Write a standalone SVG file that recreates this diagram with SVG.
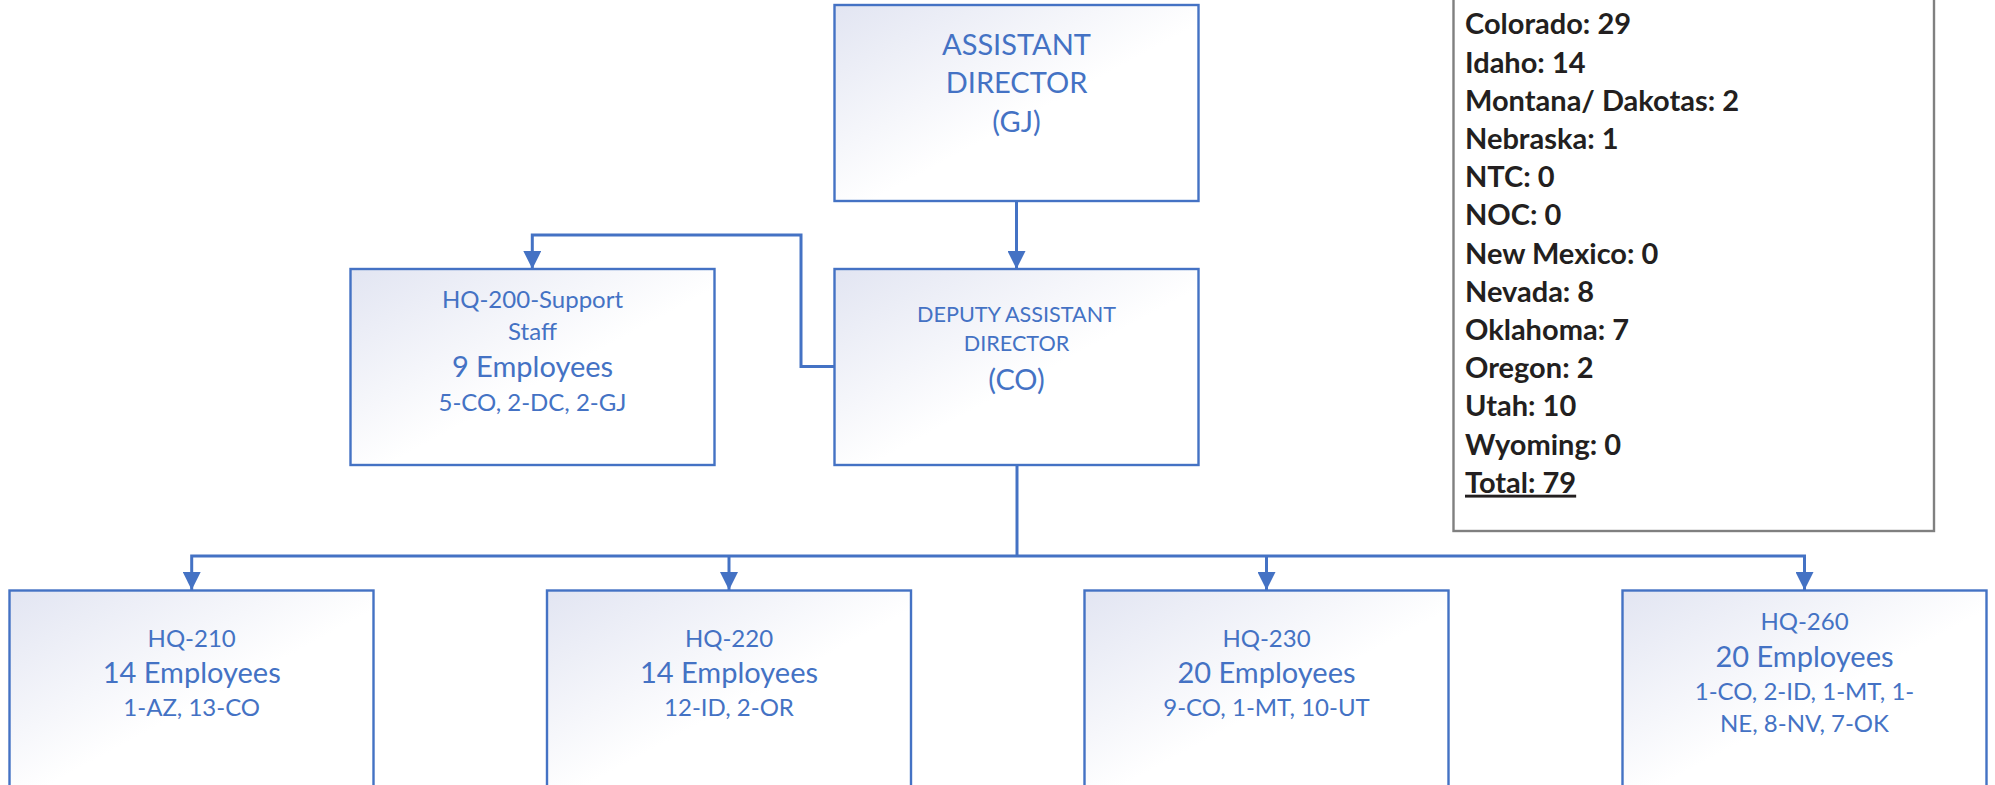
<svg xmlns="http://www.w3.org/2000/svg" width="1995" height="785" viewBox="0 0 1995 785">
  <defs>
    <linearGradient id="boxfill" x1="0" y1="0" x2="1" y2="1">
      <stop offset="0" stop-color="#e2e5f2"/>
      <stop offset="0.55" stop-color="#ffffff"/>
      <stop offset="1" stop-color="#ffffff"/>
    </linearGradient>
    <marker id="arrow" viewBox="0 0 18 18" refX="18" refY="9" markerWidth="18" markerHeight="18" markerUnits="userSpaceOnUse" orient="auto">
      <path d="M0,0 L18,9 L0,18 z" fill="#4472c4"/>
    </marker>
    <style>
      .box { fill: url(#boxfill); stroke: #4472c4; stroke-width: 2.4; }
      .conn { fill: none; stroke: #4472c4; stroke-width: 3; }
      .t { font-family: Lato, "Open Sans", sans-serif; fill: #4472c4; text-anchor: middle; }
      .big { font-size: 29px; }
      .mid { font-size: 24px; }
      .sm { font-size: 21.6px; }
      .leg { font-family: Lato, "Open Sans", sans-serif; font-weight: bold; font-size: 29px; fill: #231f20; }
    </style>
  </defs>

  <g id="connectors">
    <path class="conn" d="M1016.5,201 V269" marker-end="url(#arrow)"/>
    <path class="conn" d="M835,366.5 H801 V235 H532.3 V269" marker-end="url(#arrow)"/>
    <path class="conn" d="M1017,465 V556"/>
    <path class="conn" d="M1017,556 H191.7 V590" marker-end="url(#arrow)"/>
    <path class="conn" d="M1017,556 H1804.5 V590" marker-end="url(#arrow)"/>
    <path class="conn" d="M729,556 V590" marker-end="url(#arrow)"/>
    <path class="conn" d="M1266.5,556 V590" marker-end="url(#arrow)"/>
  </g>

  <g id="assistant-director">
    <rect class="box" x="834.5" y="5" width="364" height="196"/>
    <text class="t big" x="1016.5" y="55">ASSISTANT</text>
    <text class="t big" x="1016.5" y="93.3">DIRECTOR</text>
    <text class="t big" x="1016.5" y="131.5">(GJ)</text>
  </g>

  <g id="support-staff">
    <rect class="box" x="350.5" y="269" width="364" height="196"/>
    <text class="t mid" x="532.5" y="308">HQ-200-Support</text>
    <text class="t mid" x="532.5" y="339.7">Staff</text>
    <text class="t big" x="532.5" y="377.3">9 Employees</text>
    <text class="t mid" x="532.5" y="410.7">5-CO, 2-DC, 2-GJ</text>
  </g>

  <g id="deputy-assistant-director">
    <rect class="box" x="834.5" y="269" width="364" height="196"/>
    <text class="t sm" x="1016.5" y="322">DEPUTY ASSISTANT</text>
    <text class="t sm" x="1016.5" y="351.3">DIRECTOR</text>
    <text class="t big" x="1016.5" y="389.5">(CO)</text>
  </g>

  <g id="legend">
    <rect x="1453.5" y="-10" width="480.5" height="541" fill="#ffffff" stroke="#808080" stroke-width="2.4"/>
    <text class="leg" x="1465" y="34.3">Colorado: 29</text>
    <text class="leg" x="1465" y="72.5">Idaho: 14</text>
    <text class="leg" x="1465" y="110.7">Montana/ Dakotas: 2</text>
    <text class="leg" x="1465" y="148.9">Nebraska: 1</text>
    <text class="leg" x="1465" y="187.1">NTC: 0</text>
    <text class="leg" x="1465" y="225.3">NOC: 0</text>
    <text class="leg" x="1465" y="263.5">New Mexico: 0</text>
    <text class="leg" x="1465" y="301.7">Nevada: 8</text>
    <text class="leg" x="1465" y="339.9">Oklahoma: 7</text>
    <text class="leg" x="1465" y="378.1">Oregon: 2</text>
    <text class="leg" x="1465" y="416.3">Utah: 10</text>
    <text class="leg" x="1465" y="454.5">Wyoming: 0</text>
    <text class="leg" x="1465" y="492.7" text-decoration="underline">Total: 79</text>
  </g>

  <g id="hq-210">
    <rect class="box" x="9.5" y="590.5" width="364" height="196"/>
    <text class="t mid" x="191.7" y="646.5">HQ-210</text>
    <text class="t big" x="191.7" y="683">14 Employees</text>
    <text class="t mid" x="191.7" y="715.5">1-AZ, 13-CO</text>
  </g>

  <g id="hq-220">
    <rect class="box" x="547" y="590.5" width="364" height="196"/>
    <text class="t mid" x="729" y="646.5">HQ-220</text>
    <text class="t big" x="729" y="683">14 Employees</text>
    <text class="t mid" x="729" y="715.5">12-ID, 2-OR</text>
  </g>

  <g id="hq-230">
    <rect class="box" x="1084.5" y="590.5" width="364" height="196"/>
    <text class="t mid" x="1266.5" y="646.5">HQ-230</text>
    <text class="t big" x="1266.5" y="683">20 Employees</text>
    <text class="t mid" x="1266.5" y="715.5">9-CO, 1-MT, 10-UT</text>
  </g>

  <g id="hq-260">
    <rect class="box" x="1622.5" y="590.5" width="364" height="196"/>
    <text class="t mid" x="1804.5" y="630">HQ-260</text>
    <text class="t big" x="1804.5" y="667.3">20 Employees</text>
    <text class="t mid" x="1804.5" y="700">1-CO, 2-ID, 1-MT, 1-</text>
    <text class="t mid" x="1804.5" y="731.7">NE, 8-NV, 7-OK</text>
  </g>
</svg>
